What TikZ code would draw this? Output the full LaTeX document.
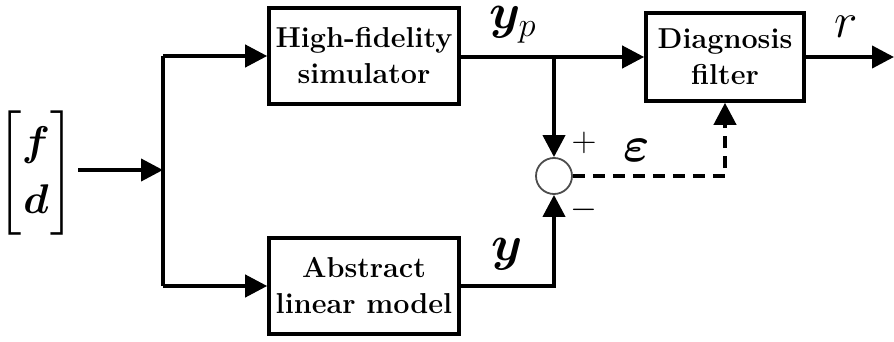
\documentclass[tikz,border=0pt]{standalone}
\usepackage{amsmath}
\usepackage{bm}
\usetikzlibrary{arrows.meta, positioning, calc}

\begin{document}
\begin{tikzpicture}[x=0.5pt, y=-0.5pt,
    block/.style={draw, line width=1.8pt, align=center, font=\Large\bfseries, inner sep=2pt},
    sig/.style={line width=2pt, -{Triangle[length=11pt,width=11pt]}},
    wire/.style={line width=2pt},
    lbl/.style={inner sep=0pt}]
        \useasboundingbox (0,0) rectangle (894,342);

        % Input vector
        \node[inner sep=0pt] (input) at (36,173) {\huge \renewcommand{\arraystretch}{1.15}$\begin{bmatrix}\bm{f}\\ \bm{d}\end{bmatrix}$};

        % Blocks
        \node[block, minimum width=95pt, minimum height=48pt] (hifi) at (364,56) {High-fidelity\\simulator};
        \node[block, minimum width=95pt, minimum height=48pt] (abstr) at (364,286) {Abstract\\linear model};
        \node[block, minimum width=79pt, minimum height=44pt] (diag) at (725,57) {Diagnosis\\filter};

        % Summing junction
        \node[circle, draw=gray!60!black, line width=0.9pt, minimum size=18pt, inner sep=0pt] (sum) at (554,176) {};

        % Branch points
        \coordinate (split) at (163,170);
        \coordinate (top) at (163,56);
        \coordinate (bot) at (163,286);
        \coordinate (tap) at (554,57);
        \coordinate (out) at (894,57);

        % Connections
        \draw[sig] (78,170) -- (split);
        \draw[wire] (top) -- (bot);
        \draw[sig] (top) -- (hifi.west);
        \draw[sig] (bot) -- (abstr.west);
        \draw[sig] (hifi.east |- tap) -- (diag.west);
        \draw[sig] (tap) -- (sum.north);
        \draw[sig] (abstr.east) -| (sum.south);
        \draw[sig, dash pattern=on 6pt off 4pt] (sum.east) -| (diag.south);
        \draw[sig] (diag.east) -- (out);

        % Signal labels
        \node[lbl] (yp) at (513,25) {\Huge $\bm{y}_{\scriptscriptstyle p}$};
        \node[lbl] (y) at (507,254) {\Huge $\bm{y}$};
        \node[lbl] (r) at (846,27) {\Huge $r$};
        \node[lbl] (eps) at (637,150) {\Huge $\bm{\varepsilon}$};
        \node[lbl] (plus) at (584,143) {\LARGE $+$};
        \node[lbl] (minus) at (584,210) {\LARGE $-$};

    \end{tikzpicture}
\end{document}
